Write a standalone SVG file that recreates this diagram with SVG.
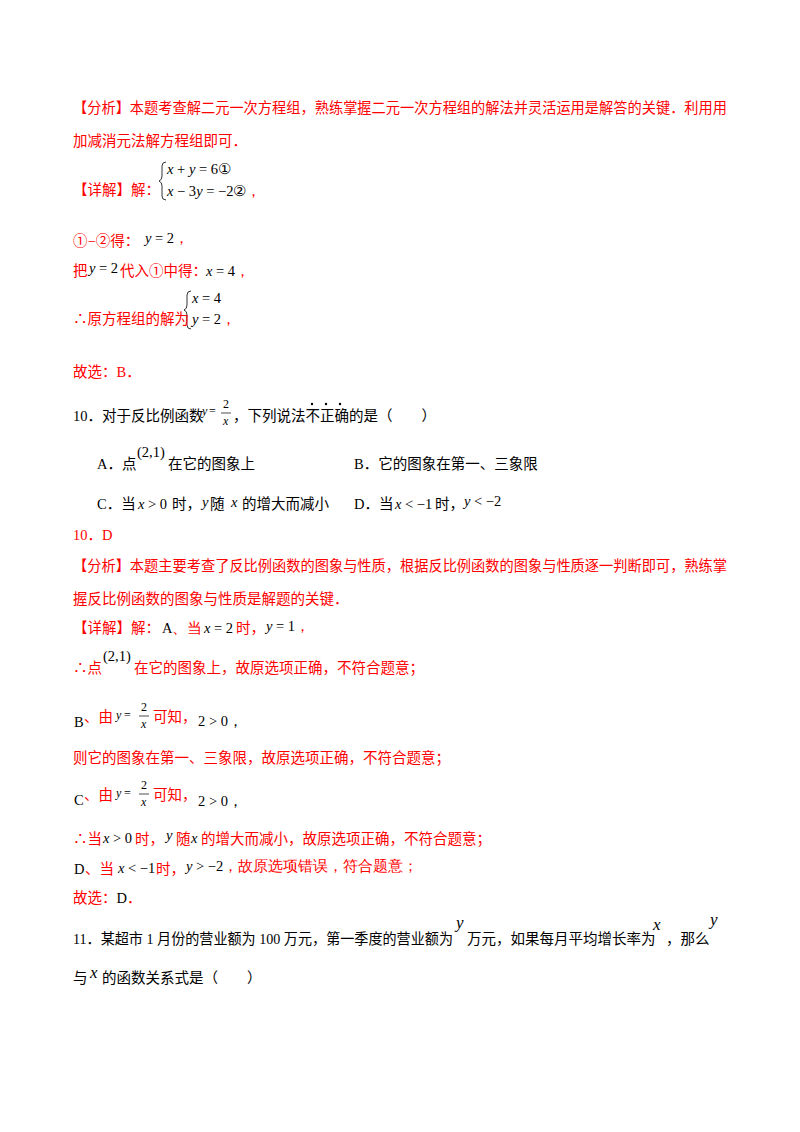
<svg xmlns="http://www.w3.org/2000/svg" width="800" height="1132" viewBox="0 0 800 1132">
<style>
text{font-family:"Liberation Serif","Noto Sans CJK SC",serif;font-size:14.5px;fill:#000}
.r{fill:#ff0000}
.m{font-family:"Liberation Serif",serif;font-style:italic;fill:#000}
.n{font-family:"Liberation Serif",serif;fill:#000}
.s{font-size:12px}
.br{fill:none;stroke:#000;stroke-width:0.8}
.fl{stroke:#000;stroke-width:0.7}
</style>
<rect width="800" height="1132" fill="#fff"/>
<g id="sol9">
<text class="r" x="73" y="113" textLength="654" lengthAdjust="spacingAndGlyphs">【分析】本题考查解二元一次方程组，熟练掌握二元一次方程组的解法并灵活运用是解答的关键．利用用</text>
<text class="r" x="73" y="146">加减消元法解方程组即可．</text>
<text class="r" x="73" y="195">【详解】解：</text>
<path class="br" d="M166 162 q-4 0 -4 4 v10 q0 4 -3 5 q3 1 3 5 v10 q0 4 4 4"/>
<text class="n" x="167" y="174"><tspan class="m">x</tspan> + <tspan class="m">y</tspan> = 6①</text>
<text class="n" x="167" y="196"><tspan class="m">x</tspan> − 3<tspan class="m">y</tspan> = −2②<tspan class="r">，</tspan></text>
<text class="r" x="73" y="246">①−②得：</text><text class="n" x="145" y="243"><tspan class="m">y</tspan> = 2<tspan class="r">，</tspan></text>
<text class="r" x="73" y="276">把</text><text class="n" x="89" y="273"><tspan class="m">y</tspan> = 2</text>
<text class="r" x="120" y="276">代入①中得：</text><text class="n" x="206" y="276"><tspan class="m">x</tspan> = 4<tspan class="r">，</tspan></text>
<path class="br" d="M191 291 q-4 0 -4 4 v10 q0 4 -3 5 q3 1 3 5 v10 q0 4 4 4"/>
<text class="n" x="192" y="303"><tspan class="m">x</tspan> = 4</text>
<text class="r" x="73" y="324">∴原方程组的解为</text>
<text class="n" x="192" y="324"><tspan class="m">y</tspan> = 2<tspan class="r">，</tspan></text>
<text class="r" x="73" y="377">故选：B．</text>
</g>
<g id="q10">
<text x="73" y="421">10．对于反比例函数</text>
<text class="m s" x="202" y="415">y</text><text class="n s" x="209" y="415">=</text>
<text class="n s" x="223" y="408">2</text><line class="fl" x1="221" y1="413" x2="231" y2="413"/><text class="m s" x="223" y="425">x</text>
<text x="233" y="421">，下列说法不正确的是（　　）</text>
<circle cx="312" cy="404" r="1.2"/><circle cx="326" cy="404" r="1.2"/><circle cx="340" cy="404" r="1.2"/>
<text x="97" y="469">A．点</text>
<text class="n" x="137" y="457">(2,1)</text>
<text x="168" y="469">在它的图象上</text>
<text x="354" y="469">B．它的图象在第一、三象限</text>
<text x="97" y="509">C．当</text><text class="n" x="138" y="509"><tspan class="m">x</tspan> &gt; 0</text>
<text x="172" y="509">时，</text><text class="m" x="202" y="507">y</text><text x="210" y="509">随</text><text class="m" x="231" y="507">x</text><text x="242" y="509">的增大而减小</text>
<text x="354" y="509">D．当</text><text class="n" x="395" y="509"><tspan class="m">x</tspan> &lt; −1</text><text x="435" y="509">时，</text>
<text class="n" x="464" y="506"><tspan class="m">y</tspan> &lt; −2</text>
</g>
<g id="sol10">
<text class="r" x="73" y="540">10．D</text>
<text class="r" x="73" y="571" textLength="654" lengthAdjust="spacingAndGlyphs">【分析】本题主要考查了反比例函数的图象与性质，根据反比例函数的图象与性质逐一判断即可，熟练掌</text>
<text class="r" x="73" y="604">握反比例函数的图象与性质是解题的关键．</text>
<text class="r" x="73" y="633">【详解】解：</text><text class="n" x="162" y="633">A<tspan class="r">、当</tspan></text>
<text class="n" x="204" y="633"><tspan class="m">x</tspan> = 2</text><text class="r" x="236" y="633">时，</text>
<text class="n" x="266" y="631"><tspan class="m">y</tspan> = 1<tspan class="r">，</tspan></text>
<text class="r" x="73" y="673">∴点</text>
<text class="n" x="103" y="661">(2,1)</text>
<text class="r" x="134" y="673">在它的图象上，故原选项正确，不符合题意；</text>
<text class="n" x="74" y="727">B</text><text class="r" x="84" y="722">、由</text>
<text class="m s" x="116" y="719">y</text><text class="n s" x="124" y="719">=</text>
<text class="n s" x="141" y="711">2</text><line class="fl" x1="139" y1="716" x2="149" y2="716"/><text class="m s" x="141" y="728">x</text>
<text class="r" x="153" y="722">可知，</text><text class="n" x="198" y="726">2 &gt; 0，</text>
<text class="r" x="73" y="763">则它的图象在第一、三象限，故原选项正确，不符合题意；</text>
<text class="n" x="74" y="805">C</text><text class="r" x="84" y="800">、由</text>
<text class="m s" x="116" y="797">y</text><text class="n s" x="124" y="797">=</text>
<text class="n s" x="141" y="789">2</text><line class="fl" x1="139" y1="794" x2="149" y2="794"/><text class="m s" x="141" y="806">x</text>
<text class="r" x="153" y="800">可知，</text><text class="n" x="198" y="806">2 &gt; 0，</text>
<text class="r" x="73" y="844">∴当</text><text class="n" x="103" y="843"><tspan class="m">x</tspan> &gt; 0</text>
<text class="r" x="135" y="844">时，</text><text class="m" x="166" y="840">y</text><text class="r" x="176" y="844">随</text><text class="m" x="191" y="843">x</text>
<text class="r" x="201" y="844">的增大而减小，故原选项正确，不符合题意；</text>
<text class="n" x="74" y="874">D</text><text class="r" x="85" y="874">、当</text><text class="n" x="118" y="873"><tspan class="m">x</tspan> &lt; −1</text>
<text class="r" x="156" y="874">时，</text><text class="n" x="186" y="871"><tspan class="m">y</tspan> &gt; −2<tspan class="r">，故原选项错误，符合题意；</tspan></text>
<text class="r" x="73" y="903">故选：<tspan class="n">D</tspan>．</text>
</g>
<g id="q11">
<text x="73" y="944" textLength="380" lengthAdjust="spacingAndGlyphs">11．某超市 1 月份的营业额为 100 万元，第一季度的营业额为</text>
<text class="m" x="456" y="928" style="font-size:17px">y</text>
<text x="467" y="944">万元，如果每月平均增长率为</text>
<text class="m" x="653" y="930" style="font-size:17px">x</text>
<text x="666" y="944">，那么</text>
<text class="m" x="710" y="925" style="font-size:17px">y</text>
<text x="73" y="983">与</text><text class="m" x="90" y="978" style="font-size:17px">x</text><text x="102" y="983">的函数关系式是（　　）</text>
</g>
</svg>
